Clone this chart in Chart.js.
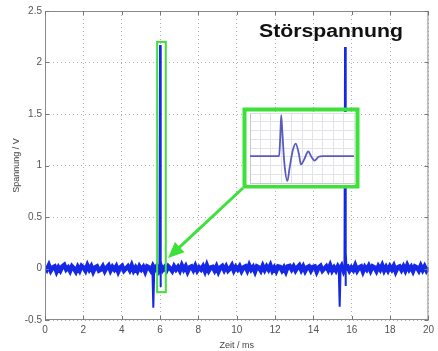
<!DOCTYPE html>
<html>
<head>
<meta charset="utf-8">
<script src="https://cdn.jsdelivr.net/npm/chart.js@4.4.1/dist/chart.umd.min.js"></script>
<style>
  body { margin: 0; background: #fff; }
  #wrap { position: relative; width: 438px; height: 351px; }
  #main { position: absolute; left: 0; top: 0; }
  #inset { position: absolute; left: 247px; top: 112px; }
</style>
</head>
<body>
<div id="wrap">
  <canvas id="main" width="438" height="351"></canvas>
  <canvas id="inset" width="108" height="73"></canvas>
</div>
<script>
// background noise (V), sampled evenly over 0..20 ms
const noiseV = [
  0.02, -0.01, 0.03, -0.02, 0.01, 0.02, -0.03, 0.01, -0.02, 0.02,
  0.035, -0.01, 0.01, -0.025, 0.02, 0.00, -0.03, 0.015, -0.02, 0.025,
  0.01, -0.02, 0.03, -0.01, 0.02, -0.03, 0.01, 0.02, -0.02, -0.01,
  0.02, -0.025, 0.01, 0.03, -0.02, 0.015, -0.01, 0.02, -0.03, 0.01,
  0.025, -0.02, 0.00, 0.02, -0.015, 0.03, -0.02, 0.01, -0.025, 0.02,
  -0.01, 0.015, -0.03, 0.02, 0.01, -0.02, 0.025, -0.01, 0.02, -0.02,
  0.03, -0.015, 0.01, -0.02, 0.02, 0.00, -0.025, 0.02, -0.01, 0.015,
  -0.02, 0.03, -0.01, 0.02, -0.03, 0.01, 0.02, -0.015, 0.025, -0.02,
  0.01, -0.01, 0.02, -0.025, 0.03, -0.02, 0.01, 0.015, -0.02, 0.02,
  -0.03, 0.01, 0.025, -0.015, 0.02, -0.02, 0.00, 0.03, -0.02, 0.015,
  -0.01, 0.02, -0.025, 0.01, 0.02, -0.02, 0.03, -0.01, 0.015, -0.03,
  0.02, 0.01, -0.02, 0.025, -0.015, 0.02, -0.01, 0.03, -0.02, 0.01,
  -0.025, 0.02, 0.015, -0.02, 0.01, -0.03, 0.02, 0.025, -0.01, 0.02,
  -0.02, 0.01, 0.03, -0.015, 0.02, -0.025, 0.01, 0.02, -0.02, 0.015,
  0.02, -0.03, 0.01, 0.025, -0.02, 0.00, 0.02, -0.015, 0.03, -0.02,
  0.01, -0.02, 0.02, -0.01, 0.025, -0.025, 0.015, 0.02, -0.02, 0.01,
  -0.015, 0.03, -0.02, 0.01, 0.02, -0.03, 0.015, -0.01, 0.025, -0.02,
  0.02, 0.01, -0.025, 0.02, -0.01, 0.03, -0.02, 0.015, -0.02, 0.02,
  -0.01, 0.025, -0.03, 0.01, 0.02, -0.015, 0.02, -0.02, 0.03, -0.01,
  0.015, -0.025, 0.02, 0.01, -0.02, 0.025, -0.015, 0.02, -0.02, 0.01
];
const tEnd = 20;

// the two disturbance bursts (ms, V)
const burst1T = [5.60, 5.65, 5.70, 5.97, 6.00, 6.02, 6.05];
const burst1V = [0.00, -0.38, 0.00, 0.00, 2.17, -0.18, 0.00];
const burst2T = [15.32, 15.37, 15.42, 15.62, 15.65, 15.67, 15.70, 15.73];
const burst2V = [0.00, -0.37, 0.00, 0.00, 2.15, -0.17, 0.15, 0.00];

// inset: zoomed view of one burst (arbitrary units)
const insetT = [0, 28, 29, 30, 31, 33, 36, 38, 41, 44, 47, 49, 52, 56, 59, 62, 66, 70, 100];
const insetV = [-0.28, -0.28, 0.3, 1.13, 0.6, -0.5, -1.13, -0.7, -0.1, 0.15, -0.2, -0.56, -0.4, -0.12, -0.3, -0.43, -0.3, -0.28, -0.28];

const xTicks = [0, 2, 4, 6, 8, 10, 12, 14, 16, 18, 20];
const yTicks = [-0.5, 0, 0.5, 1, 1.5, 2, 2.5];

const blue = '#1428e6';
const green = '#3ee03a';

const noisePts = noiseV.map((v, i) => ({ x: i * tEnd / (noiseV.length - 1), y: v }));
const b1 = burst1T.map((t, i) => ({ x: t, y: burst1V[i] }));
const b2 = burst2T.map((t, i) => ({ x: t, y: burst2V[i] }));

const overlay = {
  id: 'overlay',
  afterDatasetsDraw(chart) {
    const ctx = chart.ctx, x = chart.scales.x, y = chart.scales.y, a = chart.chartArea;
    ctx.save();
    // frame
    ctx.strokeStyle = '#8a8a8a';
    ctx.lineWidth = 1;
    ctx.strokeRect(a.left + 0.5, a.top + 0.5, a.right - a.left - 1, a.bottom - a.top - 1);
    // inward ticks
    ctx.strokeStyle = '#777';
    xTicks.forEach(v => {
      const px = Math.round(x.getPixelForValue(v)) + 0.5;
      ctx.beginPath();
      ctx.moveTo(px, a.bottom); ctx.lineTo(px, a.bottom - 4);
      ctx.moveTo(px, a.top); ctx.lineTo(px, a.top + 4);
      ctx.stroke();
    });
    yTicks.forEach(v => {
      const py = Math.round(y.getPixelForValue(v)) + 0.5;
      ctx.beginPath();
      ctx.moveTo(a.left, py); ctx.lineTo(a.left + 4, py);
      ctx.moveTo(a.right, py); ctx.lineTo(a.right - 4, py);
      ctx.stroke();
    });
    // green box round the first burst
    ctx.strokeStyle = green;
    ctx.lineWidth = 2;
    const rx0 = x.getPixelForValue(5.85), rx1 = x.getPixelForValue(6.3);
    const ry0 = y.getPixelForValue(2.2), ry1 = y.getPixelForValue(-0.23);
    ctx.strokeRect(rx0, ry0, rx1 - rx0, ry1 - ry0);
    // inset frame
    ctx.lineWidth = 4;
    ctx.strokeRect(244.5, 109.5, 113, 77);
    // arrow
    const ax0 = 243, ay0 = 188, ax1 = 168, ay1 = 258;
    const ang = Math.atan2(ay1 - ay0, ax1 - ax0);
    ctx.lineWidth = 3;
    ctx.beginPath();
    ctx.moveTo(ax0, ay0);
    ctx.lineTo(ax1 - 10 * Math.cos(ang), ay1 - 10 * Math.sin(ang));
    ctx.stroke();
    ctx.fillStyle = green;
    ctx.beginPath();
    ctx.moveTo(ax1, ay1);
    ctx.lineTo(ax1 - 16 * Math.cos(ang) + 7 * Math.sin(ang), ay1 - 16 * Math.sin(ang) - 7 * Math.cos(ang));
    ctx.lineTo(ax1 - 16 * Math.cos(ang) - 7 * Math.sin(ang), ay1 - 16 * Math.sin(ang) + 7 * Math.cos(ang));
    ctx.closePath();
    ctx.fill();
    // title
    ctx.fillStyle = '#111';
    ctx.font = 'bold 18px "Liberation Sans", Arial, sans-serif';
    ctx.textBaseline = 'alphabetic';
    const w = ctx.measureText('Störspannung').width;
    ctx.translate(259, 37);
    ctx.scale(144 / w, 1);
    ctx.fillText('Störspannung', 0, 0);
    ctx.restore();
  }
};

new Chart(document.getElementById('main'), {
  type: 'line',
  data: {
    datasets: [
      { data: noisePts, borderColor: blue, borderWidth: 4.5, pointRadius: 0, tension: 0 },
      { data: b1, borderColor: blue, borderWidth: 2, pointRadius: 0, tension: 0 },
      { data: b2, borderColor: blue, borderWidth: 2, pointRadius: 0, tension: 0 }
    ]
  },
  options: {
    responsive: false,
    animation: false,
    layout: { padding: { top: 11, right: 8, left: 0, bottom: 0 } },
    plugins: { legend: { display: false }, tooltip: { enabled: false } },
    scales: {
      x: {
        type: 'linear', min: 0, max: 20,
        afterBuildTicks: s => { s.ticks = xTicks.map(v => ({ value: v })); },
        afterFit: s => { s.height = 31; },
        ticks: { color: '#555', padding: 4, font: { size: 10, family: '"Liberation Sans", Arial' }, callback: v => String(v) },
        grid: { color: '#b0b0b0', drawTicks: false, lineWidth: 1 },
        border: { display: false, dash: [1, 3] },
        title: { display: true, text: 'Zeit / ms', color: '#444', padding: { top: 0, bottom: 0 }, font: { size: 9, family: '"Liberation Sans", Arial' } }
      },
      y: {
        min: -0.5, max: 2.5,
        afterBuildTicks: s => { s.ticks = yTicks.map(v => ({ value: v })); },
        afterFit: s => { s.width = 45; },
        ticks: { color: '#555', padding: 3, font: { size: 10, family: '"Liberation Sans", Arial' }, callback: v => String(v) },
        grid: { color: '#b0b0b0', drawTicks: false, lineWidth: 1 },
        border: { display: false, dash: [1, 3] },
        title: { display: true, text: 'Spannung / V', color: '#444', padding: { top: 11, bottom: 0 }, font: { size: 9, family: '"Liberation Sans", Arial' } }
      }
    }
  },
  plugins: [overlay]
});

const whiteBg = {
  id: 'whiteBg',
  beforeDraw(chart) {
    const ctx = chart.ctx;
    ctx.save();
    ctx.fillStyle = '#fff';
    ctx.fillRect(0, 0, chart.width, chart.height);
    ctx.restore();
  }
};

new Chart(document.getElementById('inset'), {
  type: 'line',
  data: {
    datasets: [{
      data: insetT.map((t, i) => ({ x: t, y: insetV[i] })),
      borderColor: '#5a5ac0', borderWidth: 1.8, pointRadius: 0, cubicInterpolationMode: 'monotone'
    }]
  },
  options: {
    responsive: false,
    animation: false,
    layout: { padding: { left: 3, top: 1, right: 1, bottom: 2 } },
    plugins: { legend: { display: false }, tooltip: { enabled: false } },
    scales: {
      x: { type: 'linear', min: 0, max: 100, ticks: { display: false, stepSize: 10 }, grid: { color: '#e2e2ea', drawTicks: false }, border: { color: '#c8c8d0' } },
      y: { min: -1.2, max: 1.2, ticks: { display: false, stepSize: 0.3 }, grid: { color: '#e2e2ea', drawTicks: false }, border: { color: '#c8c8d0' } }
    }
  },
  plugins: [whiteBg]
});
</script>
</body>
</html>
